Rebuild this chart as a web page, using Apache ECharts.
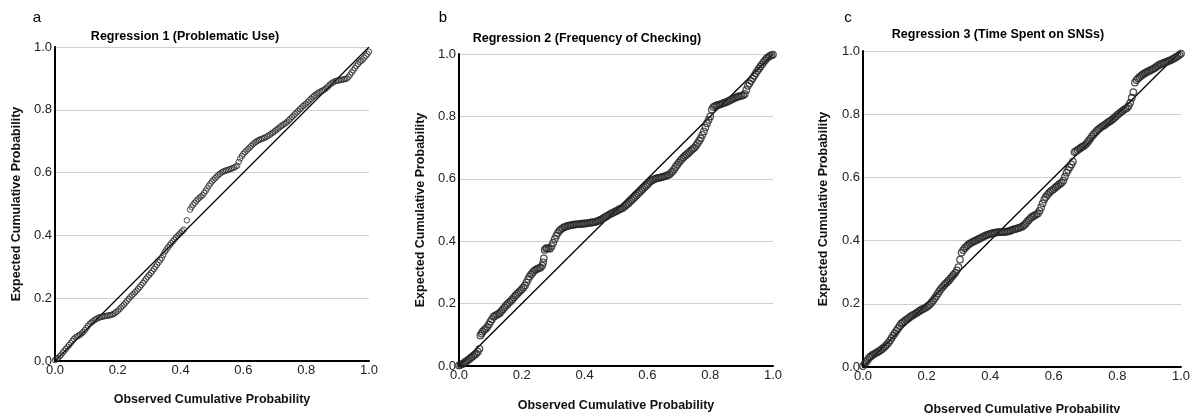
<!DOCTYPE html>
<html>
<head>
<meta charset="utf-8">
<script src="https://cdn.jsdelivr.net/npm/echarts@6/dist/echarts.min.js"></script>
<style>
  html, body { margin: 0; padding: 0; background: #fff; }
  #chart { width: 1194px; height: 413px; }
</style>
</head>
<body>
<div id="chart"></div>
<script>
// P-P plots: [observed, expected]
const ppProblematic = [
  [0,0.003],[0.005,0.006],[0.01,0.010],[0.015,0.015],[0.02,0.020],[0.025,0.027],[0.03,0.033],[0.035,0.039],
  [0.04,0.045],[0.045,0.051],[0.05,0.057],[0.055,0.064],[0.06,0.070],[0.065,0.075],[0.07,0.078],[0.075,0.081],
  [0.08,0.084],[0.085,0.088],[0.09,0.092],[0.095,0.098],[0.10,0.105],[0.105,0.112],[0.11,0.118],[0.115,0.122],
  [0.12,0.126],[0.125,0.130],[0.13,0.133],[0.135,0.136],[0.14,0.138],[0.145,0.140],[0.15,0.141],[0.155,0.142],
  [0.16,0.143],[0.165,0.144],[0.17,0.145],[0.175,0.146],[0.18,0.147],[0.185,0.149],[0.19,0.152],[0.195,0.156],
  [0.20,0.160],[0.205,0.165],[0.21,0.170],[0.215,0.175],[0.22,0.180],[0.225,0.186],[0.23,0.192],[0.235,0.198],
  [0.24,0.204],[0.245,0.209],[0.25,0.214],[0.255,0.219],[0.26,0.224],[0.265,0.230],[0.27,0.236],[0.275,0.242],
  [0.28,0.248],[0.285,0.255],[0.29,0.262],[0.295,0.268],[0.30,0.274],[0.305,0.280],[0.31,0.286],[0.315,0.293],
  [0.32,0.300],[0.325,0.307],[0.33,0.314],[0.335,0.321],[0.34,0.328],[0.345,0.338],[0.35,0.348],[0.355,0.355],
  [0.36,0.362],[0.365,0.369],[0.37,0.375],[0.375,0.381],[0.38,0.387],[0.385,0.393],[0.39,0.398],[0.395,0.403],
  [0.40,0.408],[0.405,0.413],[0.41,0.418],[0.42,0.448],[0.43,0.482],[0.435,0.490],[0.44,0.498],[0.445,0.504],
  [0.45,0.510],[0.455,0.515],[0.46,0.520],[0.465,0.524],[0.47,0.528],[0.475,0.535],[0.48,0.542],[0.485,0.550],
  [0.49,0.558],[0.495,0.565],[0.50,0.572],[0.505,0.577],[0.51,0.582],[0.515,0.587],[0.52,0.592],[0.525,0.596],
  [0.53,0.600],[0.535,0.603],[0.54,0.605],[0.545,0.607],[0.55,0.608],[0.555,0.610],[0.56,0.612],[0.565,0.614],
  [0.57,0.616],[0.575,0.619],[0.58,0.622],[0.585,0.634],[0.59,0.645],[0.595,0.653],[0.60,0.660],[0.605,0.665],
  [0.61,0.670],[0.615,0.675],[0.62,0.680],[0.625,0.685],[0.63,0.690],[0.635,0.694],[0.64,0.698],[0.645,0.701],
  [0.65,0.704],[0.655,0.706],[0.66,0.708],[0.665,0.710],[0.67,0.712],[0.675,0.715],[0.68,0.718],[0.685,0.721],
  [0.69,0.725],[0.695,0.728],[0.70,0.732],[0.705,0.736],[0.71,0.740],[0.715,0.744],[0.72,0.748],[0.725,0.751],
  [0.73,0.755],[0.735,0.758],[0.74,0.762],[0.745,0.767],[0.75,0.772],[0.755,0.777],[0.76,0.782],[0.765,0.787],
  [0.77,0.792],[0.775,0.797],[0.78,0.802],[0.785,0.807],[0.79,0.812],[0.795,0.816],[0.80,0.820],[0.805,0.825],
  [0.81,0.830],[0.815,0.835],[0.82,0.840],[0.825,0.844],[0.83,0.848],[0.835,0.852],[0.84,0.855],[0.845,0.858],
  [0.85,0.860],[0.855,0.863],[0.86,0.866],[0.865,0.870],[0.87,0.875],[0.875,0.880],[0.88,0.884],[0.885,0.887],
  [0.89,0.890],[0.895,0.892],[0.90,0.893],[0.905,0.894],[0.91,0.895],[0.915,0.896],[0.92,0.897],[0.925,0.898],
  [0.93,0.900],[0.935,0.905],[0.94,0.912],[0.945,0.919],[0.95,0.926],[0.955,0.933],[0.96,0.940],[0.965,0.946],
  [0.97,0.952],[0.975,0.956],[0.98,0.960],[0.985,0.966],[0.99,0.972],[0.995,0.978],[1.00,0.985]
];

const ppChecking = [
  [0,0.002],[0.005,0.004],[0.01,0.006],[0.015,0.009],[0.02,0.013],[0.025,0.016],[0.03,0.020],[0.035,0.024],
  [0.04,0.028],[0.045,0.032],[0.05,0.036],[0.055,0.040],[0.06,0.046],[0.065,0.055],[0.068,0.098],[0.072,0.104],
  [0.075,0.110],[0.08,0.115],[0.085,0.119],[0.09,0.125],[0.095,0.133],[0.10,0.142],[0.105,0.150],[0.11,0.158],
  [0.115,0.161],[0.12,0.164],[0.125,0.167],[0.13,0.170],[0.135,0.176],[0.14,0.182],[0.145,0.188],[0.15,0.194],
  [0.155,0.199],[0.16,0.204],[0.165,0.209],[0.17,0.214],[0.175,0.220],[0.18,0.226],[0.185,0.231],[0.19,0.236],
  [0.195,0.241],[0.20,0.246],[0.205,0.252],[0.21,0.258],[0.215,0.268],[0.22,0.278],[0.225,0.287],[0.23,0.294],
  [0.235,0.300],[0.24,0.306],[0.245,0.309],[0.25,0.312],[0.255,0.314],[0.26,0.316],[0.265,0.322],[0.268,0.332],
  [0.27,0.345],[0.273,0.372],[0.277,0.377],[0.28,0.378],[0.285,0.377],[0.29,0.376],[0.295,0.384],[0.30,0.395],
  [0.305,0.407],[0.31,0.418],[0.315,0.427],[0.32,0.434],[0.325,0.438],[0.33,0.442],[0.335,0.445],[0.34,0.447],
  [0.345,0.449],[0.35,0.450],[0.355,0.451],[0.36,0.452],[0.365,0.453],[0.37,0.454],[0.375,0.454],[0.38,0.455],
  [0.385,0.455],[0.39,0.456],[0.395,0.456],[0.40,0.457],[0.405,0.457],[0.41,0.458],[0.415,0.459],[0.42,0.460],
  [0.425,0.460],[0.43,0.461],[0.435,0.462],[0.44,0.464],[0.445,0.466],[0.45,0.468],[0.455,0.471],[0.46,0.474],
  [0.465,0.477],[0.47,0.480],[0.475,0.483],[0.48,0.486],[0.485,0.489],[0.49,0.491],[0.495,0.494],[0.50,0.496],
  [0.505,0.499],[0.51,0.502],[0.515,0.504],[0.52,0.506],[0.525,0.510],[0.53,0.514],[0.535,0.518],[0.54,0.522],
  [0.545,0.527],[0.55,0.532],[0.555,0.537],[0.56,0.542],[0.565,0.547],[0.57,0.552],[0.575,0.557],[0.58,0.562],
  [0.585,0.567],[0.59,0.572],[0.595,0.577],[0.60,0.582],[0.605,0.587],[0.61,0.592],[0.615,0.595],[0.62,0.598],
  [0.625,0.600],[0.63,0.602],[0.635,0.603],[0.64,0.604],[0.645,0.605],[0.65,0.607],[0.655,0.608],[0.66,0.610],
  [0.665,0.612],[0.67,0.614],[0.675,0.619],[0.68,0.624],[0.685,0.631],[0.69,0.638],[0.695,0.645],[0.70,0.652],
  [0.705,0.658],[0.71,0.664],[0.715,0.669],[0.72,0.674],[0.725,0.678],[0.73,0.682],[0.735,0.687],[0.74,0.692],
  [0.745,0.696],[0.75,0.700],[0.755,0.707],[0.76,0.714],[0.765,0.722],[0.77,0.730],[0.775,0.741],[0.78,0.752],
  [0.785,0.765],[0.79,0.778],[0.795,0.789],[0.80,0.800],[0.805,0.822],[0.81,0.830],[0.815,0.833],[0.82,0.835],
  [0.825,0.837],[0.83,0.838],[0.835,0.840],[0.84,0.842],[0.845,0.844],[0.85,0.845],[0.855,0.848],[0.86,0.850],
  [0.865,0.853],[0.87,0.855],[0.875,0.858],[0.88,0.860],[0.885,0.862],[0.89,0.864],[0.895,0.865],[0.90,0.866],
  [0.905,0.868],[0.91,0.872],[0.915,0.885],[0.92,0.898],[0.925,0.906],[0.93,0.914],[0.935,0.922],[0.94,0.930],
  [0.945,0.938],[0.95,0.946],[0.955,0.953],[0.96,0.960],[0.965,0.967],[0.97,0.974],[0.975,0.980],[0.98,0.986],
  [0.985,0.990],[0.99,0.994],[0.995,0.996],[1.00,0.998]
];

const ppTimeSpent = [
  [0,0.003],[0.005,0.010],[0.01,0.016],[0.015,0.023],[0.02,0.030],[0.025,0.034],[0.03,0.038],[0.035,0.041],
  [0.04,0.044],[0.045,0.047],[0.05,0.050],[0.055,0.053],[0.06,0.057],[0.065,0.061],[0.07,0.066],[0.075,0.071],
  [0.08,0.077],[0.085,0.084],[0.09,0.092],[0.095,0.100],[0.10,0.107],[0.105,0.115],[0.11,0.122],[0.115,0.130],
  [0.12,0.137],[0.125,0.141],[0.13,0.145],[0.135,0.149],[0.14,0.152],[0.145,0.156],[0.15,0.160],[0.155,0.163],
  [0.16,0.166],[0.165,0.169],[0.17,0.172],[0.175,0.176],[0.18,0.179],[0.185,0.182],[0.19,0.184],[0.195,0.187],
  [0.20,0.190],[0.205,0.194],[0.21,0.198],[0.215,0.204],[0.22,0.210],[0.225,0.217],[0.23,0.224],[0.235,0.232],
  [0.24,0.240],[0.245,0.247],[0.25,0.253],[0.255,0.259],[0.26,0.264],[0.265,0.269],[0.27,0.274],[0.275,0.280],
  [0.28,0.286],[0.285,0.292],[0.29,0.298],[0.295,0.306],[0.30,0.316],[0.305,0.340],[0.31,0.362],[0.315,0.370],
  [0.32,0.376],[0.325,0.381],[0.33,0.386],[0.335,0.390],[0.34,0.393],[0.345,0.396],[0.35,0.398],[0.355,0.401],
  [0.36,0.403],[0.365,0.406],[0.37,0.408],[0.375,0.411],[0.38,0.413],[0.385,0.416],[0.39,0.418],[0.395,0.420],
  [0.40,0.421],[0.405,0.423],[0.41,0.424],[0.415,0.425],[0.42,0.426],[0.425,0.427],[0.43,0.427],[0.435,0.427],
  [0.44,0.427],[0.445,0.428],[0.45,0.428],[0.455,0.429],[0.46,0.430],[0.465,0.432],[0.47,0.434],[0.475,0.436],
  [0.48,0.437],[0.485,0.439],[0.49,0.440],[0.495,0.442],[0.50,0.444],[0.505,0.448],[0.51,0.452],[0.515,0.458],
  [0.52,0.464],[0.525,0.469],[0.53,0.474],[0.535,0.477],[0.54,0.480],[0.545,0.483],[0.55,0.486],[0.555,0.494],
  [0.56,0.505],[0.565,0.518],[0.57,0.530],[0.575,0.538],[0.58,0.545],[0.585,0.551],[0.59,0.556],[0.595,0.560],
  [0.60,0.563],[0.605,0.568],[0.61,0.572],[0.615,0.576],[0.62,0.580],[0.625,0.584],[0.63,0.590],[0.635,0.602],
  [0.64,0.615],[0.645,0.624],[0.65,0.632],[0.655,0.641],[0.66,0.650],[0.665,0.680],[0.67,0.683],[0.675,0.687],
  [0.68,0.690],[0.685,0.694],[0.69,0.697],[0.695,0.700],[0.70,0.704],[0.705,0.710],[0.71,0.716],[0.715,0.723],
  [0.72,0.730],[0.725,0.736],[0.73,0.742],[0.735,0.747],[0.74,0.752],[0.745,0.756],[0.75,0.760],[0.755,0.763],
  [0.76,0.766],[0.765,0.770],[0.77,0.774],[0.775,0.777],[0.78,0.780],[0.785,0.784],[0.79,0.788],[0.795,0.793],
  [0.80,0.798],[0.805,0.802],[0.81,0.806],[0.815,0.810],[0.82,0.814],[0.825,0.817],[0.83,0.820],[0.835,0.826],
  [0.84,0.836],[0.845,0.852],[0.85,0.870],[0.855,0.900],[0.86,0.908],[0.865,0.913],[0.87,0.918],[0.875,0.922],
  [0.88,0.926],[0.885,0.929],[0.89,0.932],[0.895,0.935],[0.90,0.937],[0.905,0.940],[0.91,0.942],[0.915,0.945],
  [0.92,0.948],[0.925,0.952],[0.93,0.955],[0.935,0.958],[0.94,0.960],[0.945,0.962],[0.95,0.964],[0.955,0.966],
  [0.96,0.968],[0.965,0.970],[0.97,0.972],[0.975,0.975],[0.98,0.978],[0.985,0.981],[0.99,0.984],[0.995,0.988],
  [1.00,0.992]
];

const panelLetters = ['a', 'b', 'c'];
const panelTitles = [
  'Regression 1 (Problematic Use)',
  'Regression 2 (Frequency of Checking)',
  'Regression 3 (Time Spent on SNSs)'
];
const panelData = [ppProblematic, ppChecking, ppTimeSpent];
const diagonal = [[0, 0], [1, 1]];
const xName = 'Observed Cumulative Probability';
const yName = 'Expected Cumulative Probability';

// layout of each panel (px)
const panels = [
  { left: 55,  top: 47, width: 314, height: 314, titleX: 185, titleY: 37, letterX: 37,  xGap: 32, yGap: 32, dot: 5.5, dotLine: 1 },
  { left: 459, top: 54, width: 314, height: 312, titleX: 587, titleY: 39, letterX: 443, xGap: 33, yGap: 32, dot: 6.5, dotLine: 1.3 },
  { left: 863, top: 51, width: 318, height: 316, titleX: 998, titleY: 35, letterX: 848, xGap: 36, yGap: 33, dot: 6.5, dotLine: 1.3 }
];

const FONT = '"Liberation Sans", Arial, sans-serif';

const chart = echarts.init(document.getElementById('chart'), null, { renderer: 'canvas' });

const grids = [], xAxes = [], yAxes = [], series = [], graphics = [];

panels.forEach((p, i) => {
  grids.push({ left: p.left, top: p.top, width: p.width, height: p.height,
    containLabel: false, outerBoundsMode: 'none' });

  xAxes.push({
    type: 'value', gridIndex: i, min: 0, max: 1, interval: 0.2,
    name: xName, nameLocation: 'middle', nameGap: p.xGap,
    nameTextStyle: { fontFamily: FONT, fontWeight: 'bold', fontSize: 12.5, color: '#111' },
    axisLine: { lineStyle: { color: '#000', width: 2 } },
    axisTick: { show: false },
    axisLabel: { fontFamily: FONT, fontSize: 13, color: '#222', margin: 3,
      formatter: v => v.toFixed(1) },
    splitLine: { show: false }
  });

  yAxes.push({
    type: 'value', gridIndex: i, min: 0, max: 1, interval: 0.2,
    name: yName, nameLocation: 'middle', nameGap: p.yGap,
    nameTextStyle: { fontFamily: FONT, fontWeight: 'bold', fontSize: 12.5, color: '#111' },
    axisLine: { show: true, lineStyle: { color: '#000', width: 2 } },
    axisTick: { show: false },
    axisLabel: { fontFamily: FONT, fontSize: 13, color: '#222', margin: 3,
      formatter: v => v.toFixed(1) },
    splitLine: { show: true, lineStyle: { color: '#cfcfcf', width: 1 } }
  });

  series.push({
    type: 'line', xAxisIndex: i, yAxisIndex: i, data: diagonal,
    symbol: 'none', silent: true, z: 3,
    lineStyle: { color: '#000', width: 1.3 }
  });

  series.push({
    type: 'scatter', xAxisIndex: i, yAxisIndex: i, data: panelData[i],
    symbol: 'circle', symbolSize: p.dot, z: 4,
    itemStyle: { color: 'rgba(255,255,255,0)', borderColor: '#262626', borderWidth: p.dotLine }
  });

  graphics.push({
    type: 'text', x: p.titleX, y: p.titleY,
    style: { text: panelTitles[i], font: 'bold 12.5px ' + FONT, fill: '#000',
      textAlign: 'center', textVerticalAlign: 'middle' }
  });
  graphics.push({
    type: 'text', x: p.letterX, y: 18,
    style: { text: panelLetters[i], font: '15px ' + FONT, fill: '#000',
      textAlign: 'center', textVerticalAlign: 'middle' }
  });
});

chart.setOption({
  animation: false,
  backgroundColor: '#fff',
  grid: grids,
  xAxis: xAxes,
  yAxis: yAxes,
  series: series,
  graphic: graphics
});
</script>
</body>
</html>
